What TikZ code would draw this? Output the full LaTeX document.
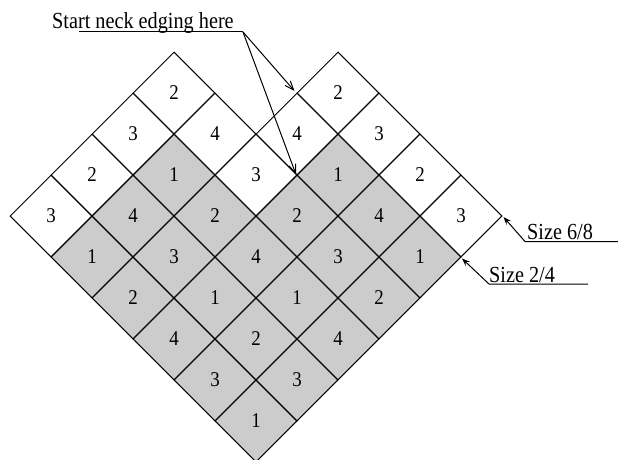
\documentclass[tikz,border=0pt]{standalone}
\usepackage{fontspec}
\setmainfont{Liberation Serif}
\newfontfamily\digitfont[FakeStretch=0.9]{Liberation Serif}
\newfontfamily\capfont[FakeStretch=0.88]{Liberation Serif}
\usetikzlibrary{shapes.geometric,arrows.meta}
\definecolor{cellgray}{RGB}{204,204,204}
\tikzset{
  cell/.style={diamond,aspect=1,draw=black,line width=1pt,inner sep=0pt,minimum width=82pt,minimum height=82pt,font=\digitfont\fontsize{21}{21}\selectfont},
  whitecell/.style={cell,fill=white},
  graycell/.style={cell,fill=cellgray},
  caption/.style={inner sep=0pt,font=\capfont\fontsize{23}{23}\selectfont},
  leader/.style={line width=1pt},
  barb/.style={-{Straight Barb[length=9pt,width=7pt]}},
  tip/.style={-{Stealth[length=8pt,width=6pt,inset=3pt]}}
}
\begin{document}
\begin{tikzpicture}[x=1pt,y=-1pt]
\useasboundingbox (0,0) rectangle (618,460);
\foreach \a/\b/\t in {0/1/1,0/2/2,0/3/4,0/4/3,0/5/1,
                      1/1/4,1/2/3,1/3/1,1/4/2,1/5/3,
                      2/1/1,2/2/2,2/3/4,2/4/1,2/5/4,
                      3/3/2,3/4/3,3/5/2,
                      4/3/1,4/4/4,4/5/1}
  \node[graycell] (g\a\b) at ({10+41*(\a+\b+1)},{216+41*(\b-\a)}) {\t};
\foreach \a/\b/\t in {0/0/3,1/0/2,2/0/3,3/0/2,
                      3/1/4,3/2/3,4/2/4,5/2/2,
                      5/3/3,5/4/2,5/5/3}
  \node[whitecell] (w\a\b) at ({10+41*(\a+\b+1)},{216+41*(\b-\a)}) {\t};
\node[caption,anchor=base west] (start) at (52,28.5) {Start neck edging here};
\node[caption,anchor=base west] (s68) at (527,239) {Size 6/8};
\node[caption,anchor=base west] (s24) at (489,282) {Size 2/4};
\coordinate (startL) at (79,32);
\coordinate (fork) at (243,32);
\coordinate (s68R) at (618,241.5);
\coordinate (s68K) at (525,241.5);
\coordinate (s24R) at (588,284);
\coordinate (s24K) at (489,284);
\draw[leader] (startL) -- (fork);
\draw[leader,barb] (fork) -- ([shift={(-2,-2)}]w52.west);
\draw[leader,barb] (fork) -- ([shift={(-1,-1)}]w42.south);
\draw[leader,tip] (s68R) -- (s68K) -- ([shift={(1,1)}]w55.east);
\draw[leader,tip] (s24R) -- (s24K) -- ([shift={(1,1)}]w55.south);
\end{tikzpicture}
\end{document}
